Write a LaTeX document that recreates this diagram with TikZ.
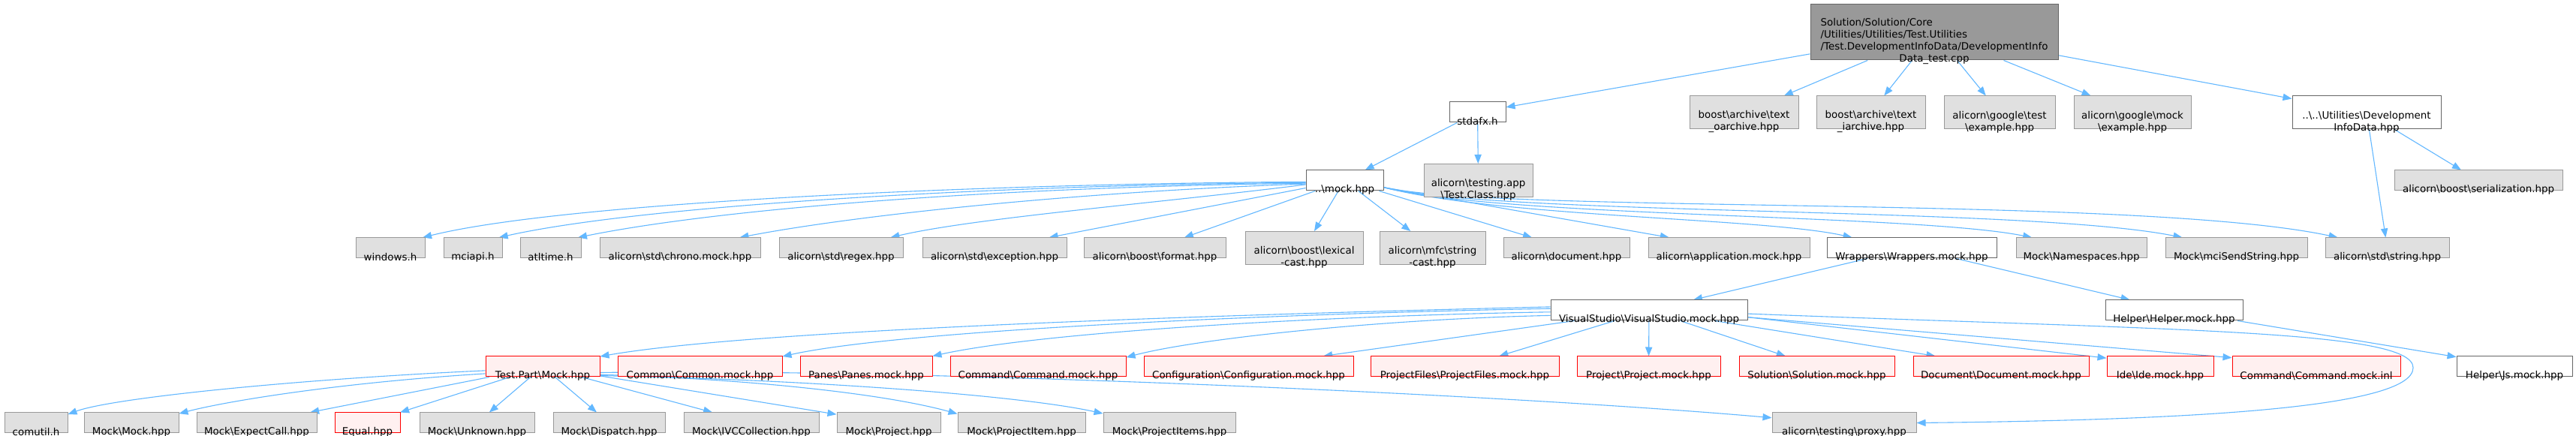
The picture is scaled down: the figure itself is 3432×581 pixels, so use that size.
\documentclass[tikz,border=0pt]{standalone}
\usepackage{fontspec}
\setmainfont{DejaVu Sans}
\usetikzlibrary{arrows.meta,backgrounds}
\definecolor{edge}{HTML}{63B8FF}
\definecolor{greyfill}{HTML}{E0E0E0}
\definecolor{greyline}{HTML}{999999}
\definecolor{darkline}{HTML}{666666}
\definecolor{redfill}{HTML}{FFF0F0}
\definecolor{redline}{HTML}{FF0000}
\newcommand\bs{\textbackslash}
\tikzset{
  every picture/.style={line width=0.5pt},
  file/.style={draw=greyline, fill=greyfill, inner sep=0pt, minimum height=13.5pt},
  tall/.style={minimum height=22pt},
  local/.style={draw=darkline, fill=white},
  cut/.style={draw=redline, fill=redfill},
  txt/.style={font=\fontsize{6.7pt}{8pt}\selectfont, align=center, inner sep=0pt, yshift=-6.2pt},
  dep/.style={draw=edge, line width=0.55pt, -{Triangle[length=6pt,width=4.6pt]}},
}

\begin{document}
\begin{tikzpicture}[x=0.5pt, y=-0.5pt]
\useasboundingbox (0,0) rectangle (3432,581);
% the test file
\node[file, draw=darkline, fill=greyline, minimum width=165pt, minimum height=37pt,
  label={[txt]center:{\begin{tabular}{@{}l@{}}Solution/Solution/Core\\/Utilities/Utilities/Test.Utilities\\/Test.DevelopmentInfoData/DevelopmentInfo\\\multicolumn{1}{@{}c@{}}{Data\_test.cpp}\end{tabular}}}] (main) at (2577,43) {};
% first level
\node[file, local, minimum width=37.5pt, label={[txt]center:stdafx.h}] (stdafx) at (1968.5,149.5) {};
\foreach \n/\x/\w/\lbl in {oarch/2323.5/145/{boost\bs archive\bs text\\\_oarchive.hpp}, iarch/2492.5/145/{boost\bs archive\bs text\\\_iarchive.hpp}, gtest/2664/148/{alicorn\bs google\bs test\\\bs example.hpp}, gmock/2841/156/{alicorn\bs google\bs mock\\\bs example.hpp}}
  \node[file, tall, minimum width=\w*0.5pt, label={[txt]center:{\lbl}}] (\n) at (\x,150) {};
\node[file, tall, local, minimum width=99pt, label={[txt]center:{..\bs..\bs Utilities\bs Development\\InfoData.hpp}}] (devinfo) at (3153,150) {};
% second level
\node[file, local, minimum width=51.5pt, label={[txt]center:{..\bs mock.hpp}}] (mock) at (1791.5,240.5) {};
\node[file, tall, minimum width=72.5pt, label={[txt]center:{alicorn\bs testing.app\\\bs Test.Class.hpp}}] (tclass) at (1969.5,240.5) {};
\node[file, minimum width=112pt, label={[txt]center:{alicorn\bs boost\bs serialization.hpp}}] (serial) at (3302,240.5) {};
% third level
\foreach \n/\x/\w/\lbl in {windows/520/92/{windows.h}, mciapi/630/78/{mciapi.h}, atltime/733.5/81/{atltime.h}, chrono/906/214/{alicorn\bs std\bs chrono.mock.hpp}, regex/1120.5/165/{alicorn\bs std\bs regex.hpp}, except/1325/192/{alicorn\bs std\bs exception.hpp}, format/1538.5/189/{alicorn\bs boost\bs format.hpp}, document/2087/168/{alicorn\bs document.hpp}, appmock/2303.5/215/{alicorn\bs application.mock.hpp}, namesp/2773/174/{Mock\bs Namespaces.hpp}, mcisend/2979.5/189/{Mock\bs mciSendString.hpp}, string/3180.5/165/{alicorn\bs std\bs string.hpp}}
  \node[file, minimum width=\w*0.5pt, label={[txt]center:{\lbl}}] (\n) at (\x,330.5) {};
\foreach \n/\x/\w/\lbl in {lexical/1737.5/157/{alicorn\bs boost\bs lexical\\-cast.hpp}, strcast/1908.5/141/{alicorn\bs mfc\bs string\\-cast.hpp}}
  \node[file, tall, minimum width=\w*0.5pt, label={[txt]center:{\lbl}}] (\n) at (\x,330.5) {};
\node[file, local, minimum width=113pt, label={[txt]center:{Wrappers\bs Wrappers.mock.hpp}}] (wrappers) at (2547,330.5) {};
% wrappers
\node[file, local, minimum width=131pt, label={[txt]center:{VisualStudio\bs VisualStudio.mock.hpp}}] (vs) at (2197,413.5) {};
\node[file, local, minimum width=91.5pt, label={[txt]center:{Helper\bs Helper.mock.hpp}}] (helper) at (2896.5,413.5) {};
\foreach \n/\x/\w/\lbl in {tpmock/723/152/{Test.Part\bs Mock.hpp}, common/932.5/219/{Common\bs Common.mock.hpp}, panes/1154/176/{Panes\bs Panes.mock.hpp}, cmdmock/1383/234/{Command\bs Command.mock.hpp}, config/1663.5/279/{Configuration\bs Configuration.mock.hpp}, projfiles/1951.5/251/{ProjectFiles\bs ProjectFiles.mock.hpp}, project/2196.5/191/{Project\bs Project.mock.hpp}, solution/2420.5/207/{Solution\bs Solution.mock.hpp}, docmock/2666/234/{Document\bs Document.mock.hpp}, ide/2878/142/{Ide\bs Ide.mock.hpp}, cmdinl/3086/224/{Command\bs Command.mock.inl}}
  \node[file, cut, minimum width=\w*0.5pt, label={[txt]center:{\lbl}}] (\n) at (\x,488.5) {};
\node[file, local, minimum width=77pt, label={[txt]center:{Helper\bs Js.mock.hpp}}] (js) at (3350,488.5) {};
% bottom level
\foreach \n/\x/\w/\lbl in {comutil/48/84/{comutil.h}, mmock/175/126/{Mock\bs Mock.hpp}, expect/342/160/{Mock\bs ExpectCall.hpp}, unknown/635.5/153/{Mock\bs Unknown.hpp}, dispatch/811.5/149/{Mock\bs Dispatch.hpp}, ivc/1001/180/{Mock\bs IVCCollection.hpp}, mproj/1184/138/{Mock\bs Project.hpp}, mitem/1361/170/{Mock\bs ProjectItem.hpp}, mitems/1558/176/{Mock\bs ProjectItems.hpp}, proxy/2457/192/{alicorn\bs testing\bs proxy.hpp}}
  \node[file, minimum width=\w*0.5pt, label={[txt]center:{\lbl}}] (\n) at (\x,563.5) {};
\node[file, cut, minimum width=43.5pt, label={[txt]center:{Equal.hpp}}] (equal) at (489.5,563.5) {};

\begin{scope}[on background layer]
\fill[white] (0,0) rectangle (3432,581);
% includes of the test file
\foreach \t in {stdafx,oarch,iarch,gtest,gmock,devinfo} \draw[dep] (main) -- (\t);
\draw[dep] (stdafx) -- (mock);
\draw[dep] (stdafx) -- (tclass);
\draw[dep] (devinfo) -- (serial);
\draw[dep] (devinfo) -- (string);
% mock.hpp
\foreach \t in {except,format,lexical,strcast,document,appmock} \draw[dep] (mock) -- (\t);
\draw[dep] (mock.182) .. controls (1300,245) and (750,270) .. (windows.18);
\draw[dep] (mock.183) .. controls (1300,247) and (850,275) .. (mciapi.22);
\draw[dep] (mock.184) .. controls (1300,250) and (950,280) .. (atltime.21);
\draw[dep] (mock.185) .. controls (1450,255) and (1150,285) .. (chrono.10);
\draw[dep] (mock.186) .. controls (1550,270) and (1300,290) .. (regex.12);
\draw[dep] (mock.-10) .. controls (2000,290) and (2350,290) .. (wrappers.170);
\draw[dep] (mock.-10) .. controls (2000,290) and (2550,285) .. (namesp.168);
\draw[dep] (mock.-10) .. controls (2000,288) and (2700,275) .. (mcisend.169);
\draw[dep] (mock.-10) .. controls (2000,285) and (2850,260) .. (string.168);
% wrappers
\draw[dep] (wrappers) -- (vs);
\draw[dep] (wrappers) -- (helper);
\draw[dep] (helper) -- (js);
% visual studio
\foreach \t in {config,projfiles,project,solution,docmock} \draw[dep] (vs) -- (\t);
\draw[dep] (vs.178) .. controls (1600,420) and (1000,440) .. (tpmock.10);
\draw[dep] (vs.179) .. controls (1700,418) and (1200,440) .. (common.7);
\draw[dep] (vs.181) .. controls (1800,420) and (1400,440) .. (panes.9);
\draw[dep] (vs.183) .. controls (1850,425) and (1600,450) .. (cmdmock.6);
\draw[dep] (vs.-4) -- (ide.171);
\draw[dep] (vs.-4) -- (cmdinl.174);
\draw[dep] (vs.-2) .. controls (2900,440) and (3215,440) .. (3215,490) .. controls (3215,545) and (2900,560) .. (proxy.east);
% test part mock
\draw[dep] (tpmock.184) .. controls (400,505) and (150,530) .. (comutil.15);
\draw[dep] (tpmock.187) .. controls (450,510) and (300,535) .. (mmock.11);
\foreach \t in {expect,equal,unknown,dispatch,ivc,mproj} \draw[dep] (tpmock) -- (\t);
\draw[dep] (tpmock.-8) .. controls (1000,505) and (1180,525) .. (mitem.172);
\draw[dep] (tpmock.-9) .. controls (1050,505) and (1350,525) .. (mitems.172);
\draw[dep] (tpmock.-6) .. controls (1200,490) and (2000,525) .. (proxy.176);
\end{scope}
\end{tikzpicture}
\end{document}
